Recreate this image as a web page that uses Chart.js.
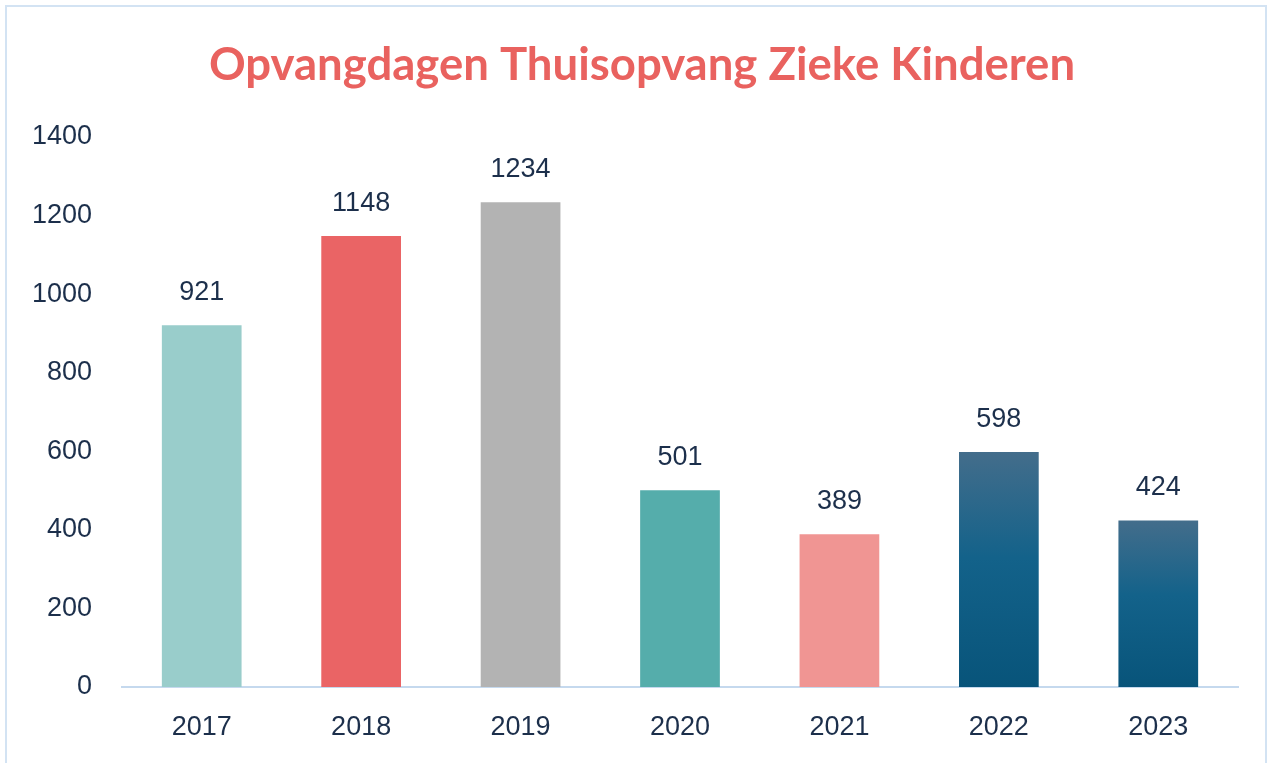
<!DOCTYPE html>
<html>
<head>
<meta charset="utf-8">
<script src="https://cdn.jsdelivr.net/npm/chart.js@4/dist/chart.umd.min.js"></script>
<style>
  html, body { margin: 0; padding: 0; background: #fff; }
  #wrap { position: relative; width: 1273px; height: 763px; overflow: hidden; }
  #frame { position: absolute; left: 5px; top: 5px; width: 1262px; height: 770px;
           border: 2px solid #d3e3f3; box-sizing: border-box; }
  canvas { position: absolute; left: 0; top: 0; }
</style>
</head>
<body>
<div id="wrap">
  <div id="frame"></div>
  <canvas id="grafico" width="1273" height="763"></canvas>
</div>
<script>
// Datos del gráfico
const titel = 'Opvangdagen Thuisopvang Zieke Kinderen';
const jaren = ['2017', '2018', '2019', '2020', '2021', '2022', '2023'];
const opvangdagen = [921, 1148, 1234, 501, 389, 598, 424];
const kleuren = ['#99cdcb', '#ea6465', '#b3b3b3', '#55adab', '#f09593', 'verloop', 'verloop'];
const yTicks = [0, 200, 400, 600, 800, 1000, 1200, 1400];

const tekstKleur = '#1c2f4b';

// Titel en etiquetas encima de cada barra
const waardeLabels = {
    id: 'waardeLabels',
    afterDatasetsDraw(chart) {
        const ctx = chart.ctx;
        const meta = chart.getDatasetMeta(0);
        ctx.save();
        ctx.font = 'bold 45.5px Lato, "Open Sans", sans-serif';
        ctx.fillStyle = '#e9625f';
        ctx.textAlign = 'center';
        ctx.textBaseline = 'middle';
        ctx.fillText(titel, 642, 65);

        ctx.font = '27px "Liberation Sans", Arial, sans-serif';
        ctx.fillStyle = tekstKleur;
        ctx.textBaseline = 'alphabetic';
        meta.data.forEach(function(bar, i) {
            ctx.fillText(String(opvangdagen[i]), bar.x, bar.y - 25);
        });
        ctx.restore();
    }
};

const ctx = document.getElementById('grafico').getContext('2d');
new Chart(ctx, {
    type: 'bar',
    data: {
        labels: jaren,
        datasets: [{
            data: opvangdagen,
            backgroundColor: function(context) {
                const kleur = kleuren[context.dataIndex];
                if (kleur !== 'verloop') return kleur;
                const chart = context.chart;
                if (!chart.chartArea) return '#0d5b7e';
                const y = chart.scales.y;
                const top = y.getPixelForValue(opvangdagen[context.dataIndex]);
                const bodem = y.getPixelForValue(0);
                const g = chart.ctx.createLinearGradient(0, top, 0, bodem);
                g.addColorStop(0, '#436d8b');
                g.addColorStop(0.45, '#13628a');
                g.addColorStop(1, '#08547a');
                return g;
            },
            borderWidth: 0,
            barPercentage: 0.5,
            categoryPercentage: 1.0
        }]
    },
    options: {
        responsive: false,
        animation: false,
        layout: { padding: { left: 0, right: 35, top: 137, bottom: 0 } },
        plugins: {
            legend: { display: false },
            tooltip: { enabled: false },
            title: { display: false }
        },
        scales: {
            x: {
                grid: { display: false, drawTicks: false },
                border: { display: true, color: '#c5d9ee', width: 2 },
                ticks: {
                    color: tekstKleur,
                    font: { family: '"Liberation Sans", Arial, sans-serif', size: 27 },
                    padding: 24
                },
                afterFit: function(scale) { scale.height = 76; }
            },
            y: {
                min: 0,
                max: 1400,
                grid: { display: false, drawTicks: false },
                border: { display: false },
                afterBuildTicks: function(scale) {
                    scale.ticks = yTicks.map(function(v) { return { value: v }; });
                },
                ticks: {
                    color: tekstKleur,
                    font: { family: '"Liberation Sans", Arial, sans-serif', size: 27 },
                    padding: 30,
                    callback: function(v) { return String(v); }
                },
                afterFit: function(scale) { scale.width = 122; }
            }
        }
    },
    plugins: [waardeLabels]
});
</script>
</body>
</html>
